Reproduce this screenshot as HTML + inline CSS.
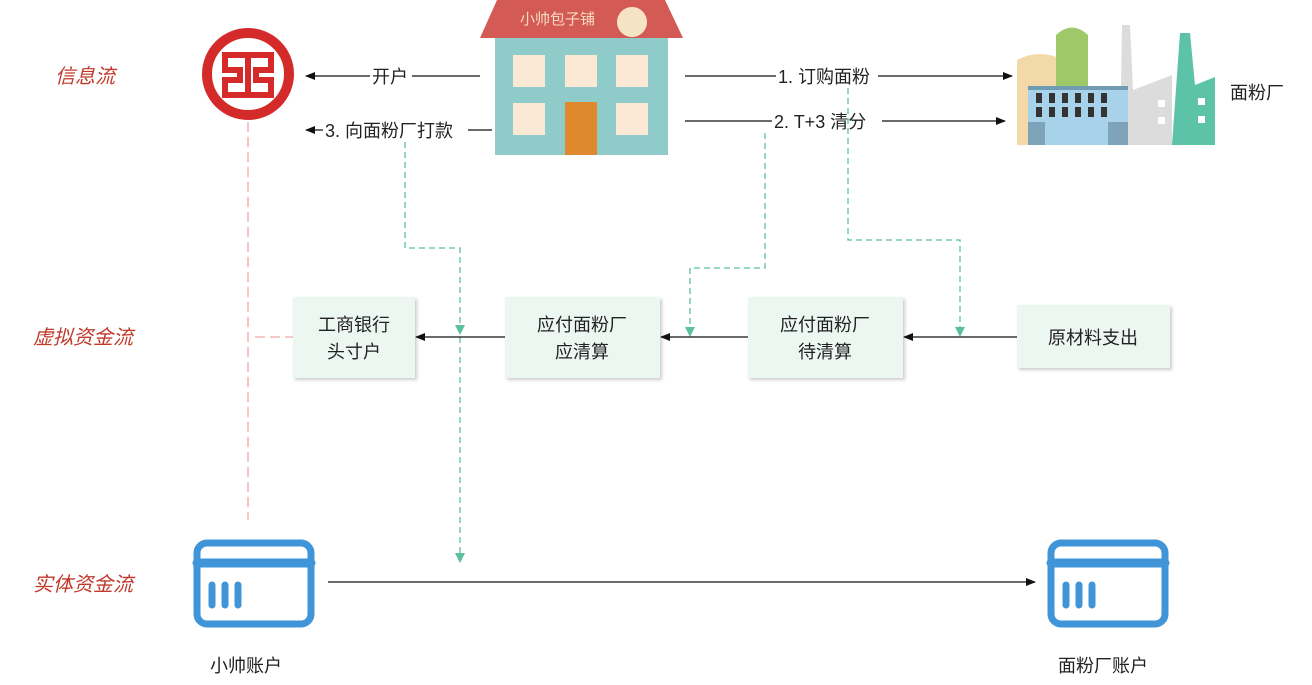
<!DOCTYPE html>
<html><head><meta charset="utf-8"><style>
body{margin:0;background:#fff;width:1312px;height:680px;overflow:hidden;font-family:"Liberation Sans","Noto Sans CJK SC",sans-serif}
</style></head><body>
<svg width="1312" height="680" viewBox="0 0 1312 680" xmlns="http://www.w3.org/2000/svg" font-family="Liberation Sans, Noto Sans CJK SC, sans-serif">
<defs>
<marker id="ab" markerWidth="10" markerHeight="8" refX="9" refY="4" orient="auto" markerUnits="userSpaceOnUse"><path d="M0,0 L10,4 L0,8 z" fill="#111"/></marker>
<marker id="ag" markerWidth="10" markerHeight="10" refX="9" refY="5" orient="auto" markerUnits="userSpaceOnUse"><path d="M0,0 L10,5 L0,10 z" fill="#5bbfa0"/></marker>
<filter id="sh" x="-10%" y="-10%" width="130%" height="130%"><feDropShadow dx="2" dy="2" stdDeviation="1.5" flood-color="#000" flood-opacity="0.2"/></filter>
</defs>
<g font-size="20" fill="#c0392b" font-style="italic">
<text x="55" y="83">信息流</text><text x="33" y="344">虚拟资金流</text><text x="33" y="591">实体资金流</text></g>
<!-- bank logo -->
<circle cx="248" cy="74" r="41" fill="none" stroke="#d42a2a" stroke-width="10"/>
<g fill="none" stroke="#d42a2a" stroke-width="6" stroke-linecap="square">
<path d="M243,55 H225 V70 H240 M240,80 H225 V95 H243"/>
<path d="M253,55 H271 V70 H256 M256,80 H271 V95 H253"/>
<path d="M240,70 V80 M256,70 V80"/>
</g>
<rect x="245" y="52" width="6" height="46" fill="#d42a2a"/>
<!-- house -->
<polygon points="497,0 665,0 683,38 480,38" fill="#d45a55"/>
<text x="520" y="24" font-size="15" fill="#f5d9c0">小帅包子铺</text>
<circle cx="632" cy="22" r="15" fill="#f5e3c5"/>
<rect x="495" y="38" width="173" height="117" fill="#8ecbc9"/>
<g fill="#fbe9d5"><rect x="513" y="55" width="32" height="32"/><rect x="565" y="55" width="32" height="32"/><rect x="616" y="55" width="32" height="32"/><rect x="513" y="103" width="32" height="32"/><rect x="616" y="103" width="32" height="32"/></g>
<rect x="565" y="102" width="32" height="53" fill="#e0882e"/>
<!-- factory -->
<path d="M1017,145 V60 Q1040,48 1063,60 V145Z" fill="#f4d9a8"/>
<path d="M1056,88 V35 Q1072,20 1088,35 V88Z" fill="#9fc86a"/>
<polygon points="1120,145 1122,25 1130,25 1133,90 1172,75 1172,145" fill="#dcdcdc"/>
<polygon points="1172,145 1180,33 1190,33 1195,85 1215,77 1215,145" fill="#5cc3a8"/>
<rect x="1028" y="86" width="100" height="59" fill="#a8d1ea"/>
<rect x="1028" y="86" width="100" height="4" fill="#6f9bb3"/>
<rect x="1028" y="122" width="17" height="23" fill="#7fa3b8"/><rect x="1108" y="122" width="20" height="23" fill="#7fa3b8"/>
<g fill="#333"><rect x="1036" y="93" width="6" height="10"/><rect x="1049" y="93" width="6" height="10"/><rect x="1062" y="93" width="6" height="10"/><rect x="1075" y="93" width="6" height="10"/><rect x="1088" y="93" width="6" height="10"/><rect x="1101" y="93" width="6" height="10"/><rect x="1036" y="107" width="6" height="10"/><rect x="1049" y="107" width="6" height="10"/><rect x="1062" y="107" width="6" height="10"/><rect x="1075" y="107" width="6" height="10"/><rect x="1088" y="107" width="6" height="10"/><rect x="1101" y="107" width="6" height="10"/></g>
<g fill="#fff"><rect x="1158" y="100" width="7" height="7"/><rect x="1158" y="117" width="7" height="7"/><rect x="1198" y="98" width="7" height="7"/><rect x="1198" y="116" width="7" height="7"/></g>
<text x="1230" y="99" font-size="18" fill="#222">面粉厂</text>
<!-- arrows top -->
<g stroke="#111" stroke-width="1.3" fill="none">
<line x1="480" y1="76" x2="306" y2="76" marker-end="url(#ab)"/>
<line x1="492" y1="130" x2="306" y2="130" marker-end="url(#ab)"/>
<line x1="685" y1="76" x2="1012" y2="76" marker-end="url(#ab)"/>
<line x1="685" y1="121" x2="1005" y2="121" marker-end="url(#ab)"/>
</g>
<g font-size="18" fill="#222">
<rect x="370" y="64" width="42" height="24" fill="#fff"/><text x="372" y="83">开户</text>
<rect x="323" y="118" width="145" height="24" fill="#fff"/><text x="325" y="137">3. 向面粉厂打款</text>
<rect x="776" y="64" width="102" height="24" fill="#fff"/><text x="778" y="83">1. 订购面粉</text>
<rect x="772" y="109" width="110" height="24" fill="#fff"/><text x="774" y="128">2. T+3 清分</text>
</g>
<!-- dashed -->
<g stroke="#5bbfa0" stroke-width="1.3" fill="none" stroke-dasharray="6,4">
<path d="M405,142 V248 H460 V562" marker-end="url(#ag)"/>
<path d="M765,133 V268 H690 V336" marker-end="url(#ag)"/>
<path d="M848,88 V240 H960 V336" marker-end="url(#ag)"/>
</g>
<path d="M455,325 L465,325 L460,335z" fill="#5bbfa0"/>
<g stroke="#f0a8a8" stroke-width="1.3" stroke-dasharray="10,5"><line x1="248" y1="122" x2="248" y2="520"/><line x1="255" y1="337" x2="293" y2="337"/></g>
<!-- boxes -->
<g fill="#edf7f2" filter="url(#sh)">
<rect x="293" y="297" width="122" height="81"/><rect x="505" y="297" width="155" height="81"/><rect x="748" y="297" width="155" height="81"/><rect x="1017" y="305" width="153" height="63"/></g>
<g font-size="18" fill="#222" text-anchor="middle">
<text x="354" y="331">工商银行</text><text x="354" y="358">头寸户</text>
<text x="582" y="331">应付面粉厂</text><text x="582" y="358">应清算</text>
<text x="825" y="331">应付面粉厂</text><text x="825" y="358">待清算</text>
<text x="1093" y="344">原材料支出</text></g>
<g stroke="#111" stroke-width="1.3"><line x1="1017" y1="337" x2="904" y2="337" marker-end="url(#ab)"/><line x1="748" y1="337" x2="661" y2="337" marker-end="url(#ab)"/><line x1="505" y1="337" x2="416" y2="337" marker-end="url(#ab)"/>
<line x1="328" y1="582" x2="1035" y2="582" marker-end="url(#ab)"/></g>
<!-- cards -->
<g fill="none" stroke="#3f95d8" stroke-width="7" stroke-linecap="round">
<rect x="197" y="543" width="114" height="81" rx="10"/><line x1="197" y1="563" x2="311" y2="563" stroke-width="9"/>
<path d="M212,585 V605 M225,585 V605 M238,585 V605"/>
<rect x="1051" y="543" width="114" height="81" rx="10"/><line x1="1051" y1="563" x2="1165" y2="563" stroke-width="9"/>
<path d="M1066,585 V605 M1079,585 V605 M1092,585 V605"/>
</g>
<text x="210" y="672" font-size="18" fill="#222">小帅账户</text>
<text x="1058" y="672" font-size="18" fill="#222">面粉厂账户</text>
</svg>
</body></html>
